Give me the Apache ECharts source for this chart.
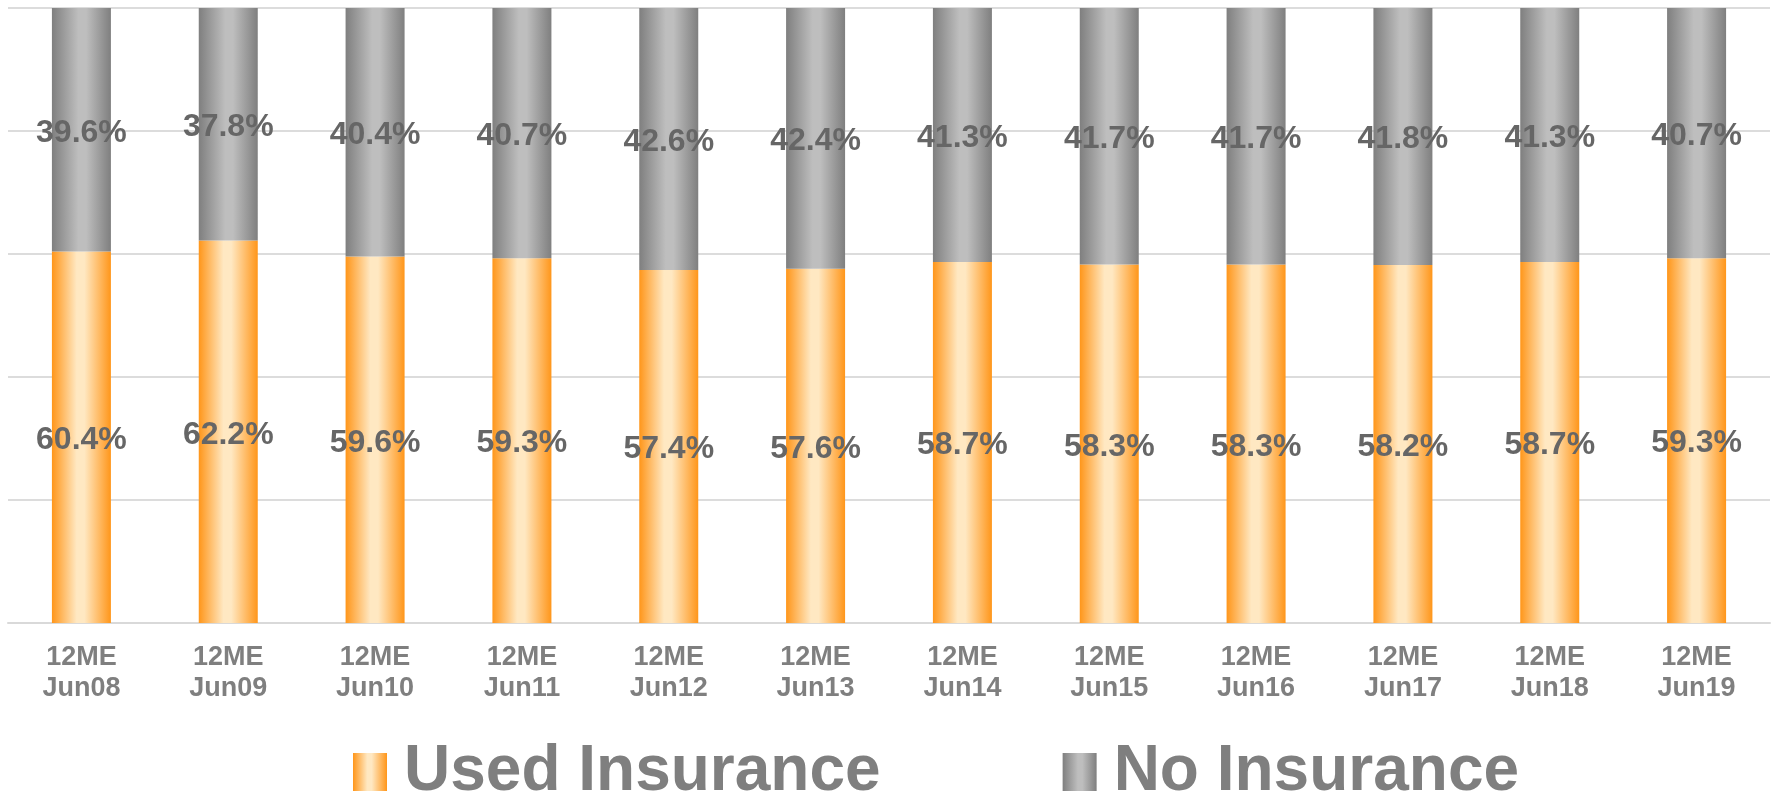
<!DOCTYPE html>
<html>
<head>
<meta charset="utf-8">
<script src="https://cdn.jsdelivr.net/npm/echarts@6/dist/echarts.min.js"></script>
<style>
html,body{margin:0;padding:0;background:#fff;}
#chart{width:1773px;height:795px;}
</style>
</head>
<body>
<div id="chart"></div>
<script>
const categories = ['12ME\nJun08','12ME\nJun09','12ME\nJun10','12ME\nJun11','12ME\nJun12','12ME\nJun13','12ME\nJun14','12ME\nJun15','12ME\nJun16','12ME\nJun17','12ME\nJun18','12ME\nJun19'];
const usedInsurance = [60.4,62.2,59.6,59.3,57.4,57.6,58.7,58.3,58.3,58.2,58.7,59.3];
const noInsurance = [39.6,37.8,40.4,40.7,42.6,42.4,41.3,41.7,41.7,41.8,41.3,40.7];
const seriesNames = ['Used Insurance','No Insurance'];

const chart = echarts.init(document.getElementById('chart'));
const orangeGrad = new echarts.graphic.LinearGradient(0,0,1,0,[
  {offset:0,color:'#FF961A'},
  {offset:0.42,color:'#FFE8C2'},
  {offset:0.55,color:'#FFE8C2'},
  {offset:1,color:'#FF961A'}
]);
const grayGrad = new echarts.graphic.LinearGradient(0,0,1,0,[
  {offset:0,color:'#7F7F7F'},
  {offset:0.45,color:'#BEBEBE'},
  {offset:0.58,color:'#BEBEBE'},
  {offset:1,color:'#7F7F7F'}
]);
const labelStyle = {
  show:true,
  position:'inside',
  offset:[0,3],
  color:'#666666',
  fontFamily:'Liberation Sans, Arial, sans-serif',
  fontWeight:'bold',
  fontSize:32,
  formatter:p=>p.value.toFixed(1)+'%'
};
chart.setOption({
  animation:false,
  grid:{left:8,right:3,top:8,bottom:172,containLabel:false},
  legend:{
    data:seriesNames,
    icon:'rect',
    left:348,
    top:735,
    itemWidth:34,
    itemHeight:38,
    itemGap:182,
    textStyle:{
      color:'#7F7F7F',
      fontFamily:'Liberation Sans, Arial, sans-serif',
      fontWeight:'bold',
      fontSize:64,
      lineHeight:64,
      padding:[0,0,0,12]
    }
  },
  xAxis:{
    type:'category',
    data:categories,
    axisLine:{lineStyle:{color:'#D9D9D9',width:2}},
    axisTick:{show:false},
    axisLabel:{
      color:'#7F7F7F',
      fontFamily:'Liberation Sans, Arial, sans-serif',
      fontWeight:'bold',
      fontSize:27,
      lineHeight:31,
      margin:19
    }
  },
  yAxis:{
    type:'value',
    min:0,max:100,interval:20,
    axisLabel:{show:false},
    axisLine:{show:false},
    axisTick:{show:false},
    splitLine:{lineStyle:{color:'#DCDCDC',width:2}}
  },
  series:[
    {name:seriesNames[0],type:'bar',stack:'s',data:usedInsurance,barWidth:59,itemStyle:{color:orangeGrad},label:labelStyle},
    {name:seriesNames[1],type:'bar',stack:'s',data:noInsurance,barWidth:59,itemStyle:{color:grayGrad},label:labelStyle}
  ]
});
</script>
</body>
</html>
